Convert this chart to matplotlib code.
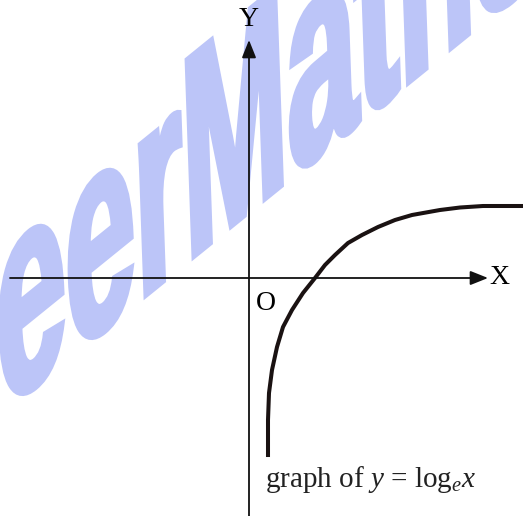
import numpy as np
import matplotlib
matplotlib.use("Agg")
import matplotlib.pyplot as plt
from matplotlib.textpath import TextPath
from matplotlib.font_manager import FontProperties
from matplotlib.patches import PathPatch
from matplotlib.transforms import Affine2D

# curve points (origin at O)
curve_x = [19, 19, 20, 23, 28, 34, 43, 54, 66, 76, 86, 99, 113, 129, 146, 163, 191, 211, 234, 258, 274]
curve_y = [-177, -142, -115, -92, -69, -49, -32, -15, 0, 13, 23, 35, 43, 51, 58, 63, 68, 70.5, 72, 72, 72]

x_axis = [-239, 239]
y_axis = [-238, 238]

plt.rcParams['mathtext.fontset'] = 'custom'
plt.rcParams['mathtext.rm'] = 'Liberation Serif'
plt.rcParams['mathtext.it'] = 'Liberation Serif:italic'

fig = plt.figure(figsize=(5.23, 5.16), dpi=100)
ax = fig.add_axes([0, 0, 1, 1])
ax.set_xlim(-249, 274)
ax.set_ylim(-238, 278)
ax.axis('off')

# watermark (rotated, stretched text behind the drawing)
fp = FontProperties(family='Liberation Sans', weight='bold')
tp = TextPath((0, 0), 'EngineerMaths', size=1, prop=fp)
mx = TextPath((0, 0), 'Engineer', size=1, prop=fp).get_extents().x1 + 0.04
base_ang, up_ang = np.radians(39), np.radians(92)
em_h, em_v = 160, 285
a, c = em_h * np.cos(base_ang), em_h * np.sin(base_ang)
b, d = em_v * np.cos(up_ang), em_v * np.sin(up_ang)
tx = -60 - a * mx
ty = 18 - c * mx
tr = Affine2D(np.array([[a, b, tx], [c, d, ty], [0, 0, 1]]))
wm = '#bcc5f8'
ax.add_patch(PathPatch(tr.transform_path(tp), fc=wm, ec=wm, lw=4, zorder=0))

# axes with arrows
style = matplotlib.patches.ArrowStyle('-|>', head_length=0.4, head_width=0.16)
ax.annotate('', xy=(x_axis[1], 0), xytext=(x_axis[0], 0),
            arrowprops=dict(arrowstyle=style, mutation_scale=27, lw=1.3, color='#111111',
                            shrinkA=0, shrinkB=0))
ax.annotate('', xy=(0, y_axis[1]), xytext=(0, y_axis[0]),
            arrowprops=dict(arrowstyle=style, mutation_scale=27, lw=1.3, color='#111111',
                            shrinkA=0, shrinkB=0))

ax.plot(curve_x, curve_y, color='#1a1212', lw=2.9, solid_joinstyle='round')

serif = 'Liberation Serif'
ax.text(0, 258, 'Y', family=serif, fontsize=20, ha='center', va='center')
ax.text(250, 0, 'X', family=serif, fontsize=20, ha='center', va='center')
ax.text(17, -25, 'O', family=serif, fontsize=20, ha='center', va='center')
ax.text(16, -209, r'graph of $y$ = log$_e$$x$', family=serif, fontsize=21,
        ha='left', va='baseline', color='#222222')

fig.savefig('out.png', dpi=100)
